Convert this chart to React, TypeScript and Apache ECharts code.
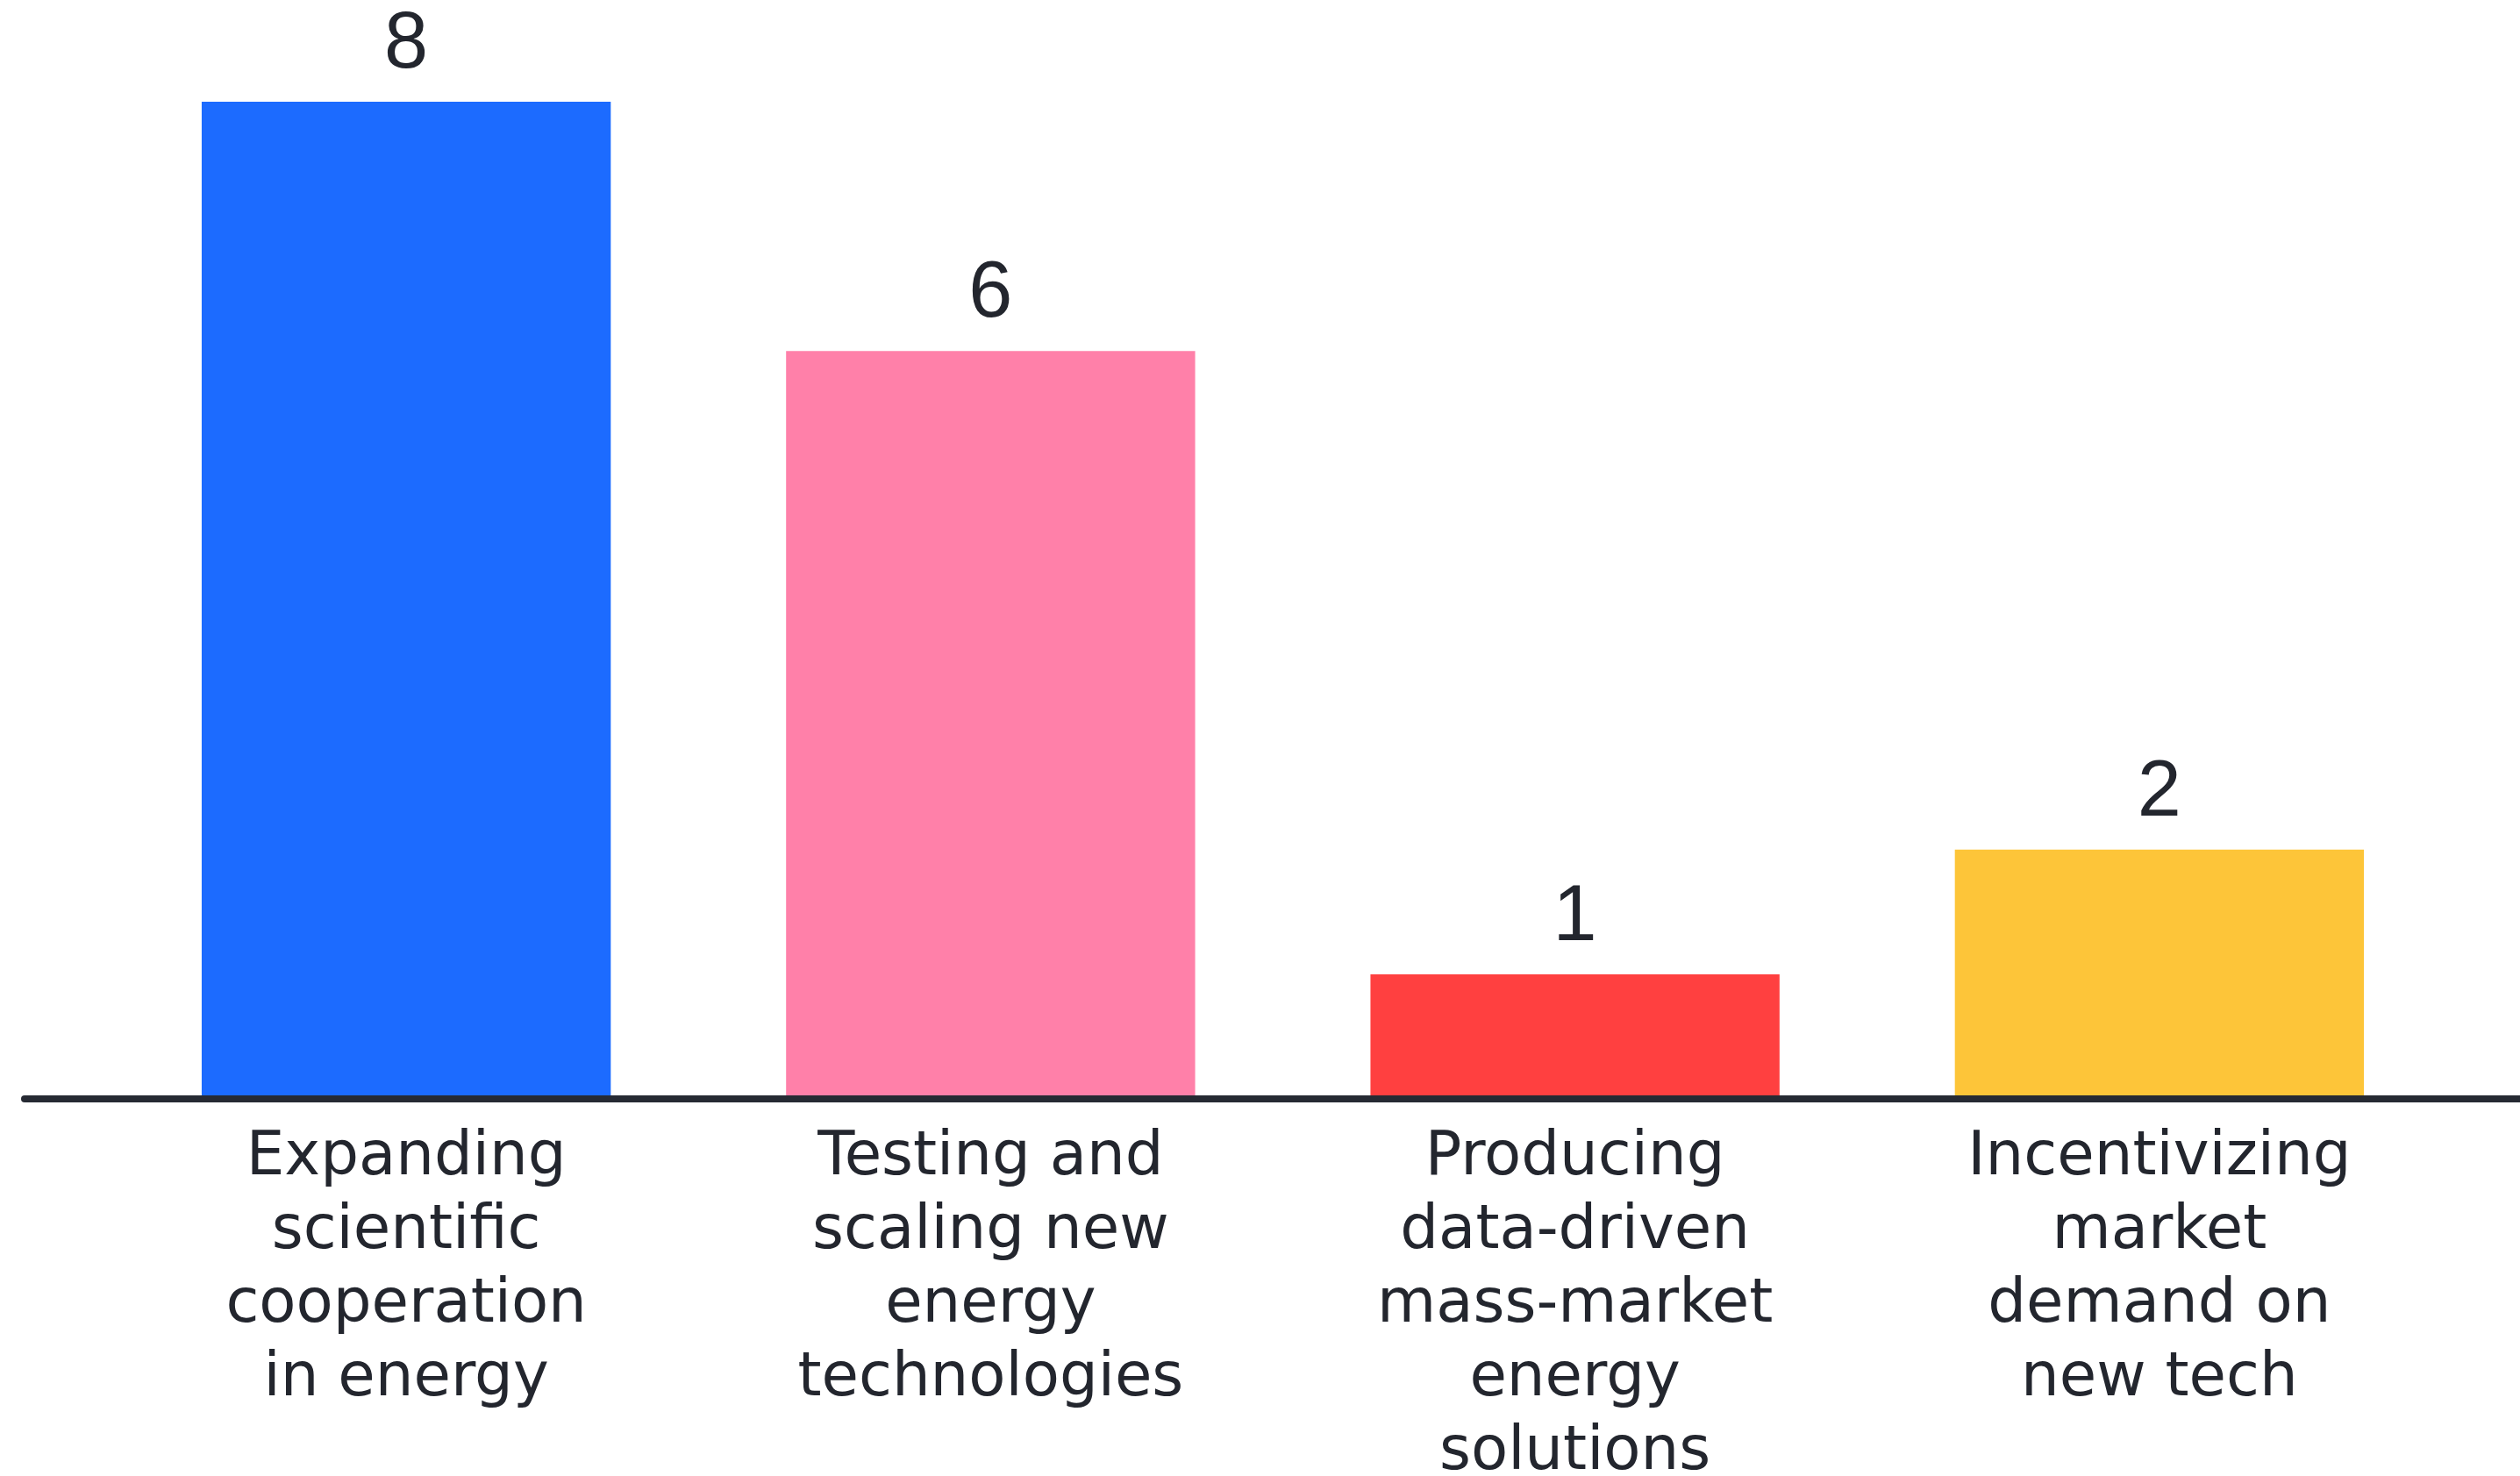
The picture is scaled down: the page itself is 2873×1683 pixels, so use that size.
import React, { useEffect, useRef } from "react";
import * as echarts from "echarts";

const categories = [
  "Expanding\nscientific\ncooperation\nin energy",
  "Testing and\nscaling new\nenergy\ntechnologies",
  "Producing\ndata-driven\nmass-market\nenergy\nsolutions",
  "Incentivizing\nmarket\ndemand on\nnew tech",
];
const values = [8, 6, 1, 2];
const barColors = ["#1c6bff", "#ff80a9", "#ff4040", "#fdc539"];

export default function App() {
  const ref = useRef<HTMLDivElement>(null);
  useEffect(() => {
    if (!ref.current) return;
    const chart = echarts.init(ref.current, null, { renderer: "svg" });
    chart.setOption({
      animation: false,
      backgroundColor: "#ffffff",
      grid: [
        { left: 130, right: 78, top: 116, bottom: 430, containLabel: false, outerBoundsMode: "none" },
        { left: 28, right: 0, top: 116, bottom: 430, containLabel: false, outerBoundsMode: "none" },
      ],
      xAxis: [
        {
          type: "category",
          gridIndex: 0,
          data: categories,
          axisLine: { show: false },
          axisTick: { show: false },
          axisLabel: {
            interval: 0,
            margin: 20,
            fontFamily: "DejaVu Sans",
            fontSize: 69,
            lineHeight: 84,
            color: "#23262e",
            align: "center",
          },
        },
        {
          type: "category",
          gridIndex: 1,
          data: [""],
          z: 10,
          axisLine: { show: true, lineStyle: { color: "#262a33", width: 8 } },
          axisTick: { show: false },
          axisLabel: { show: false },
        },
      ],
      yAxis: [
        { type: "value", gridIndex: 0, min: 0, max: 8, show: false, splitLine: { show: false } },
        { type: "value", gridIndex: 1, min: 0, max: 8, show: false, splitLine: { show: false } },
      ],
      series: [
        {
          type: "bar",
          xAxisIndex: 0,
          yAxisIndex: 0,
          barWidth: "70%",
          data: values.map((v, i) => ({ value: v, itemStyle: { color: barColors[i] } })),
          label: {
            show: true,
            position: "top",
            distance: 25,
            fontFamily: "Liberation Sans",
            fontSize: 90,
            lineHeight: 90,
            color: "#23262e",
          },
        },
      ],
    });
    return () => chart.dispose();
  }, []);
  return (
    <div
      ref={ref}
      style={{ position: "absolute", left: 0, top: 0, width: 2873, height: 1683 }}
    />
  );
}
